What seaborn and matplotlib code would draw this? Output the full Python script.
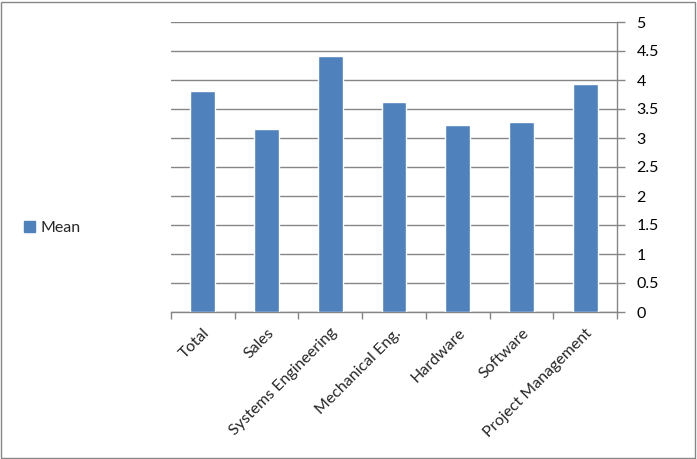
import matplotlib
matplotlib.use("Agg")
import matplotlib.pyplot as plt
import matplotlib.patches as mpatches
import pandas as pd
import seaborn as sns

categories = ["Total", "Sales", "Systems Engineering", "Mechanical Eng.",
              "Hardware", "Software", "Project Management"]
mean_values = [3.81, 3.16, 4.41, 3.62, 3.22, 3.28, 3.93]
y_ticks = [0, 0.5, 1, 1.5, 2, 2.5, 3, 3.5, 4, 4.5, 5]
y_tick_labels = ["0", "0.5", "1", "1.5", "2", "2.5", "3", "3.5", "4", "4.5", "5"]

bar_color = "#4F81BD"
axis_gray = "#868686"

sns.set_theme(style="white")
plt.rcParams["font.family"] = ["Lato", "DejaVu Sans"]

df = pd.DataFrame({"category": categories, "Mean": mean_values})

fig = plt.figure(figsize=(6.97, 4.59), dpi=100)
ax = fig.add_axes([171 / 697, 1 - 312 / 459, 446 / 697, 290 / 459])

sns.barplot(data=df, x="category", y="Mean", color=bar_color, width=0.39,
            saturation=1, ax=ax, zorder=3)

ax.set_xlim(-0.5, len(categories) - 0.5)
ax.set_ylim(0, 5)
ax.set_xlabel("")
ax.set_ylabel("")

# y axis on the right, Excel style
ax.yaxis.tick_right()
ax.set_yticks(y_ticks)
ax.set_yticklabels(y_tick_labels, fontsize=11.5, color="black")
ax.tick_params(axis="y", which="major", direction="out", length=6,
               color=axis_gray, width=1, pad=8, left=False, right=True)
ax.yaxis.grid(True, color=axis_gray, linewidth=1)
ax.set_axisbelow(True)

# category labels, ticks between categories
ax.set_xticks(range(len(categories)))
ax.set_xticklabels(categories, rotation=45, ha="right", rotation_mode="anchor",
                   fontsize=11.5)
ax.tick_params(axis="x", which="major", length=0, pad=10)
ax.set_xticks([i - 0.5 for i in range(len(categories) + 1)], minor=True)
ax.tick_params(axis="x", which="minor", direction="out", length=5,
               color=axis_gray, width=1, bottom=True)

for side in ["top", "left"]:
    ax.spines[side].set_visible(False)
for side in ["right", "bottom"]:
    ax.spines[side].set_color(axis_gray)
    ax.spines[side].set_linewidth(1)

handle = mpatches.Patch(color=bar_color, label="Mean")
fig.legend(handles=[handle], loc="center left", bbox_to_anchor=(22 / 697 - 0.018, 1 - 228 / 459),
           frameon=False, fontsize=11.5, handlelength=0.7, handleheight=0.7,
           handletextpad=0.35)

# outer chart border
fig.patches.append(mpatches.Rectangle((0.002, 0.003), 0.995, 0.993, transform=fig.transFigure,
                                      fill=False, edgecolor=axis_gray, linewidth=1))

fig.savefig("out.png", dpi=100)
